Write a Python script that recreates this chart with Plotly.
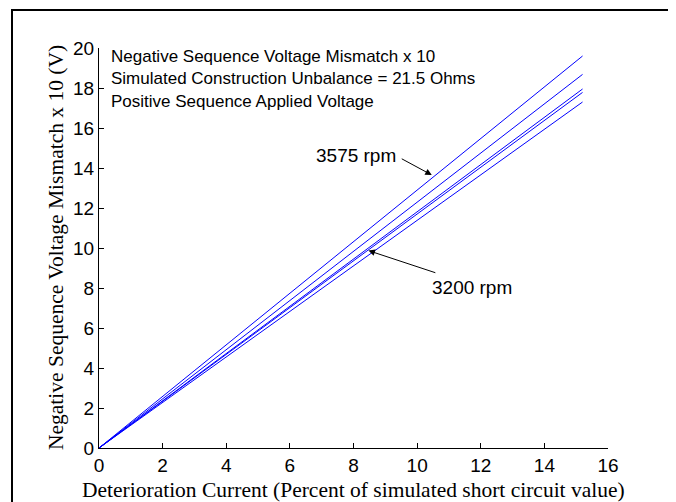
import plotly.graph_objects as go

# Data
current_pct = [0, 15.2]  # deterioration current, % of simulated short circuit value
series_end = [19.6, 18.68, 17.95, 17.78, 17.3]  # mismatch x10 at 15.2 %
series_names = ["3575 rpm", "s2", "s3", "s4", "3200 rpm"]
x_ticks = [0, 2, 4, 6, 8, 10, 12, 14, 16]
y_ticks = [0, 2, 4, 6, 8, 10, 12, 14, 16, 18, 20]

W, H = 676, 502
L, R, T, B = 91, 76, 40, 62
pw, ph = W - L - R, H - T - B

def px2paper_x(px):
    return (px - L) / pw

def px2paper_y(py):
    return (H - B - py) / ph

fig = go.Figure()
for name, yend in zip(series_names, series_end):
    fig.add_trace(go.Scatter(x=current_pct, y=[0, yend], mode="lines",
                             line=dict(color="#0000ff", width=1), name=name,
                             showlegend=False, hoverinfo="skip"))

sans = "Arial, Liberation Sans, sans-serif"
serif = "Times New Roman, Liberation Serif, serif"

axis_common = dict(showline=True, linecolor="black", linewidth=1, ticks="inside",
                   ticklen=5, tickcolor="black", tickwidth=1, showgrid=False,
                   zeroline=False, mirror=False,
                   tickfont=dict(family=sans, size=19, color="black"))
fig.update_xaxes(range=[0, 16], tickvals=x_ticks, **axis_common)
fig.update_yaxes(range=[0, 20], tickvals=y_ticks, **axis_common)

annotations = []
# info text
info = ["Negative Sequence Voltage Mismatch x 10",
        "Simulated Construction Unbalance = 21.5 Ohms",
        "Positive Sequence Applied Voltage"]
for i, t in enumerate(info):
    annotations.append(dict(text=t, xref="paper", yref="paper",
                            x=px2paper_x(101), y=px2paper_y(48 + 22.6 * i),
                            xanchor="left", yanchor="middle", showarrow=False,
                            font=dict(family=sans, size=17, color="black")))

# rpm labels and arrows
arrow_style = dict(showarrow=True, arrowhead=2, arrowsize=1.3, arrowwidth=1,
                   arrowcolor="black", xref="x", yref="y", axref="x", ayref="y",
                   text="", standoff=0, startstandoff=0)
annotations.append(dict(x=10.46, y=13.65, ax=9.47, ay=14.5, **arrow_style))
annotations.append(dict(x=8.47, y=9.87, ax=10.62, ay=8.74, **arrow_style))
annotations.append(dict(text="3575 rpm", x=9.4, y=14.65, xref="x", yref="y",
                        showarrow=False, xanchor="right", yanchor="middle",
                        font=dict(family=sans, size=19, color="black")))
annotations.append(dict(text="3200 rpm", x=10.41, y=8.05, xref="x", yref="y",
                        showarrow=False, xanchor="left", yanchor="middle",
                        font=dict(family=sans, size=19, color="black")))
# axis titles
annotations.append(dict(text="Deterioration Current (Percent of simulated short circuit value)",
                        xref="paper", yref="paper", x=0.5, y=px2paper_y(482),
                        xanchor="center", yanchor="middle", showarrow=False,
                        font=dict(family=serif, size=21.5, color="black")))
annotations.append(dict(text="Negative Sequence Voltage Mismatch x 10 (V)",
                        xref="paper", yref="paper", x=px2paper_x(48), y=0.5,
                        xanchor="center", yanchor="middle", showarrow=False, textangle=-90,
                        font=dict(family=serif, size=21.5, color="black")))

fig.update_layout(
    width=W, height=H, margin=dict(l=L, r=R, t=T, b=B, pad=0),
    plot_bgcolor="white", paper_bgcolor="white",
    annotations=annotations,
    shapes=[dict(type="rect", xref="paper", yref="paper",
                 x0=px2paper_x(4), x1=px2paper_x(663),
                 y0=px2paper_y(515), y1=px2paper_y(2),
                 line=dict(color="black", width=2), layer="above")],
)

fig.write_html("out.html")
